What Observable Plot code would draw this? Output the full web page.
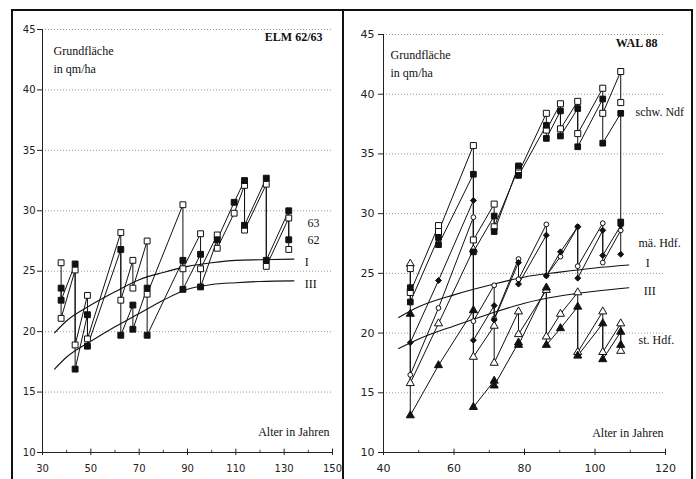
<!DOCTYPE html>
<html><head><meta charset="utf-8">
<script src="https://cdn.jsdelivr.net/npm/d3@7"></script>
<script src="https://cdn.jsdelivr.net/npm/@observablehq/plot@0.6"></script>
<style>
body{margin:0;background:#fff;width:696px;height:479px;overflow:hidden;position:relative}
#left{position:absolute;left:0;top:0}
#right{position:absolute;left:343px;top:0}
#frame{position:absolute;left:11px;top:9px;width:678px;height:520px;border:2px solid #111}
#sep{position:absolute;left:342px;top:9px;width:2px;height:480px;background:#111}
svg{overflow:visible}
</style></head><body>
<div id="left"></div><div id="right"></div><div id="frame"></div><div id="sep"></div>
<script>
// ---------- shared ----------
const yTicks = [10, 15, 20, 25, 30, 35, 40, 45];

// ---------- ELM 62/63 ----------
const elmXTicks = [30, 50, 70, 90, 110, 130, 150];
const elmXMinor = [40, 60, 80, 100, 120, 140];
// [age, basal area]  (before / after thinning at each age)
const elm63 = [[37.7,25.7],[37.7,21.1],[43.5,25.1],[43.5,18.9],[48.6,23.0],[48.6,19.4],
  [62.4,28.2],[62.4,22.6],[67.4,25.9],[67.4,23.6],[73.3,27.5],[73.3,23.1],[88.1,30.5],[88.1,25.2],
  [95.4,28.1],[95.4,25.2],[102.3,28.0],[102.3,26.9],[109.3,29.8],[113.6,32.1],[113.6,28.4],
  [122.6,32.2],[122.6,25.4],[131.9,29.4],[131.9,26.8]];
const elm62 = [[37.7,23.6],[37.7,22.6],[43.5,25.6],[43.5,16.9],[48.6,21.4],[48.6,18.8],
  [62.4,26.8],[62.4,19.7],[67.4,22.2],[67.4,20.2],[73.3,23.6],[73.3,19.7],[88.1,25.9],[88.1,23.5],
  [95.4,26.4],[95.4,23.7],[102.3,27.6],[109.3,30.7],[113.6,32.5],[113.6,28.8],
  [122.6,32.7],[122.6,25.9],[131.9,30.0],[131.9,27.6]];
const elmCurveAges = [35, 40, 50, 60, 70, 80, 90, 100, 110, 120, 134];
const elmCurveI   = [19.9, 20.9, 22.2, 23.3, 24.3, 24.9, 25.4, 25.7, 25.9, 25.95, 26.0];
const elmCurveIII = [16.9, 17.9, 19.2, 20.4, 21.5, 22.6, 23.5, 23.9, 24.05, 24.15, 24.2];

// ---------- WAL 88 ----------
const walXTicks = [40, 60, 80, 100, 120];
const walXMinor = [50, 70, 90, 110];
const walNdfOpen = [[47.6,25.4],[47.6,23.4],[55.6,29.0],[55.6,28.5],[65.5,35.7],[65.5,27.8],
  [71.4,30.8],[71.4,28.9],[78.3,33.8],[78.3,33.4],[86.2,38.4],[86.2,37.0],[90.2,39.2],[90.2,37.1],
  [95.1,39.4],[95.1,36.7],[102.2,40.5],[102.2,38.4],[107.3,41.9],[107.3,39.3]];
const walNdfFilled = [[47.6,23.8],[47.6,22.6],[55.6,28.0],[55.6,27.4],[65.5,33.3],[65.5,26.8],
  [71.4,29.8],[71.4,28.5],[78.3,34.0],[78.3,33.2],[86.2,37.4],[86.2,36.3],[90.2,38.6],[90.2,36.5],
  [95.1,38.8],[95.1,35.6],[102.2,39.6],[102.2,35.9],[107.3,38.4],[107.3,29.3]];
const walMaOpen = [[47.6,16.5],[55.6,22.1],[65.5,29.7],[65.5,21.0],[71.4,24.0],[71.4,21.2],
  [78.3,26.2],[78.3,24.5],[86.2,29.1],[86.2,24.8],[90.2,26.4],[95.1,28.9],[95.1,25.6],
  [102.2,29.2],[102.2,25.9],[107.3,28.6]];
const walMaFilled = [[47.6,19.2],[55.6,24.4],[65.5,31.1],[65.5,19.4],[71.4,22.3],[71.4,21.1],
  [78.3,25.9],[78.3,24.1],[86.2,28.2],[86.2,24.8],[90.2,26.8],[95.1,28.9],[95.1,24.6],
  [102.2,28.6],[102.2,26.5],[107.3,29.0],[107.3,26.6]];
const walStOpen = [[47.6,25.8],[47.6,15.8],[55.6,20.8],[65.5,27.0],[65.5,18.0],[71.4,20.6],[71.4,17.5],
  [78.3,21.8],[78.3,19.9],[86.2,23.6],[86.2,19.7],[90.2,21.6],[95.1,23.4],[95.1,18.4],
  [102.2,21.8],[102.2,18.4],[107.3,20.8],[107.3,18.5]];
const walStFilled = [[47.6,21.6],[47.6,13.1],[55.6,17.3],[65.5,21.9],[65.5,13.8],[71.4,16.0],[71.4,15.6],
  [78.3,19.2],[78.3,19.0],[86.2,23.8],[86.2,19.0],[90.2,20.4],[95.1,22.2],[95.1,18.1],
  [102.2,20.8],[102.2,17.8],[107.3,20.1],[107.3,19.0]];
const walCurveAges = [44.3, 50, 60, 70, 80, 90, 100, 109.6];
const walCurveI   = [21.3, 22.2, 23.2, 24.0, 24.7, 25.1, 25.45, 25.7];
const walCurveIII = [18.7, 19.5, 20.6, 21.6, 22.5, 23.1, 23.5, 23.8];

// ---------- helpers ----------
const SERIF = "Liberation Serif, Times New Roman, serif";
const SANS = "DejaVu Sans, sans-serif";
const INK = "#111";
const px = d => d[0], py = d => d[1];
const zipCurve = (ages, vals) => ages.map((a, i) => [a, vals[i]]);

function seriesMarks(data, symbol, r, filled) {
  return Plot.dot(data, {x: px, y: py, symbol, r, fill: filled ? INK : "white", stroke: INK, strokeWidth: 1});
}
function lineMark(data) {
  return Plot.line(data, {x: px, y: py, stroke: INK, strokeWidth: 1});
}
function label(t, anchor, dx, dy, opts = {}) {
  return Plot.text([t], {text: d => d, frameAnchor: anchor, dx, dy, lineAnchor: "middle",
    fontFamily: SERIF, fontSize: 12, fill: INK, ...opts});
}
function curveLabel(curve, t, dx, dy) {
  return Plot.text([curve[curve.length - 1]], {x: px, y: py, text: () => t, dx, dy, textAnchor: "start",
    lineAnchor: "middle", fontFamily: SERIF, fontSize: 12, fill: INK});
}

function panel(cfg) {
  return Plot.plot({
    width: cfg.width, height: 479,
    marginLeft: cfg.ml, marginRight: cfg.mr, marginTop: cfg.mt, marginBottom: 27,
    x: {domain: cfg.xDomain, label: null},
    y: {domain: [10, 45], label: null},
    style: {background: "transparent", fontFamily: SANS, fontSize: cfg.fs + "px", overflow: "visible"},
    marks: [
      Plot.ruleY(yTicks.filter(d => d > 10), {stroke: "#8a8a8a", strokeWidth: 0.9, strokeDasharray: "1 2"}),
      Plot.ruleX([cfg.xDomain[0]], {stroke: "#222", strokeWidth: 1}),
      Plot.ruleY([10], {stroke: "#222", strokeWidth: 1}),
      Plot.axisY({ticks: yTicks, tickSize: 5, tickPadding: cfg.yPad, tickFormat: d => d, label: null,
        fontSize: cfg.fs, fontFamily: SANS, stroke: "#222", fill: "#222"}),
      Plot.axisX({ticks: cfg.xTicks, tickSize: 3, tickPadding: 9, tickFormat: d => d, label: null,
        fontSize: cfg.fs, fontFamily: SANS, stroke: "#222", fill: "#222"}),
      Plot.ruleX(cfg.xTicks, {x: d => d, y1: 10, y2: 10.28, stroke: "#222"}),
      Plot.ruleX(cfg.xMinor, {x: d => d, y1: 10, y2: 10.18, stroke: "#444"}),
      ...cfg.curves.map(c => Plot.line(c, {x: px, y: py, curve: "monotone-x", stroke: INK, strokeWidth: 1.1})),
      ...cfg.series.map(s => lineMark(s.data)),
      ...cfg.series.map(s => seriesMarks(s.data, s.symbol, s.r, s.filled)),
      ...cfg.texts
    ]
  });
}

// ---------- ELM panel ----------
const elmI = zipCurve(elmCurveAges, elmCurveI);
const elmIII = zipCurve(elmCurveAges, elmCurveIII);
document.getElementById("left").append(panel({
  width: 343, ml: 42, mr: 11, mt: 29, fs: 10, yPad: 2,
  xDomain: [30, 150], xTicks: elmXTicks, xMinor: elmXMinor,
  curves: [elmI, elmIII],
  series: [
    {data: elm63, symbol: "square", r: 3.3, filled: false},
    {data: elm62, symbol: "square", r: 3.3, filled: true}
  ],
  texts: [
    label("Grundfläche", "top-left", 11, 22, {textAnchor: "start"}),
    label("in qm/ha", "top-left", 11, 40, {textAnchor: "start"}),
    label("ELM 62/63", "top-right", -10, 8, {textAnchor: "end", fontWeight: "bold"}),
    label("63", "top-left", 265, 194, {textAnchor: "start"}),
    label("62", "top-left", 265, 211, {textAnchor: "start"}),
    curveLabel(elmI, "I", 11, 3),
    curveLabel(elmIII, "III", 11, 3),
    label("Alter in Jahren", "bottom-right", -3, -20, {textAnchor: "end"})
  ]
}));

// ---------- WAL panel ----------
const walI = zipCurve(walCurveAges, walCurveI);
const walIII = zipCurve(walCurveAges, walCurveIII);
document.getElementById("right").append(panel({
  width: 353, ml: 40, mr: 31, mt: 34, fs: 11, yPad: 4,
  xDomain: [40, 120], xTicks: walXTicks, xMinor: walXMinor,
  curves: [walI, walIII],
  series: [
    {data: walStOpen, symbol: "triangle", r: 3.0, filled: false},
    {data: walStFilled, symbol: "triangle", r: 3.0, filled: true},
    {data: walMaOpen, symbol: "circle", r: 2.4, filled: false},
    {data: walMaFilled, symbol: "diamond2", r: 2.7, filled: true},
    {data: walNdfOpen, symbol: "square", r: 3.4, filled: false},
    {data: walNdfFilled, symbol: "square", r: 3.2, filled: true}
  ],
  texts: [
    label("Grundfläche", "top-left", 7, 21, {textAnchor: "start"}),
    label("in qm/ha", "top-left", 7, 39, {textAnchor: "start"}),
    label("WAL 88", "top-right", -8, 9, {textAnchor: "end", fontWeight: "bold"}),
    label("schw. Ndf", "top-left", 252, 78, {textAnchor: "start"}),
    label("mä. Hdf.", "top-left", 255, 209, {textAnchor: "start"}),
    label("st. Hdf.", "top-left", 255, 306, {textAnchor: "start"}),
    curveLabel(walI, "I", 17, -2),
    curveLabel(walIII, "III", 15, 3),
    label("Alter in Jahren", "bottom-right", -2, -19, {textAnchor: "end"})
  ]
}));
</script></body></html>
